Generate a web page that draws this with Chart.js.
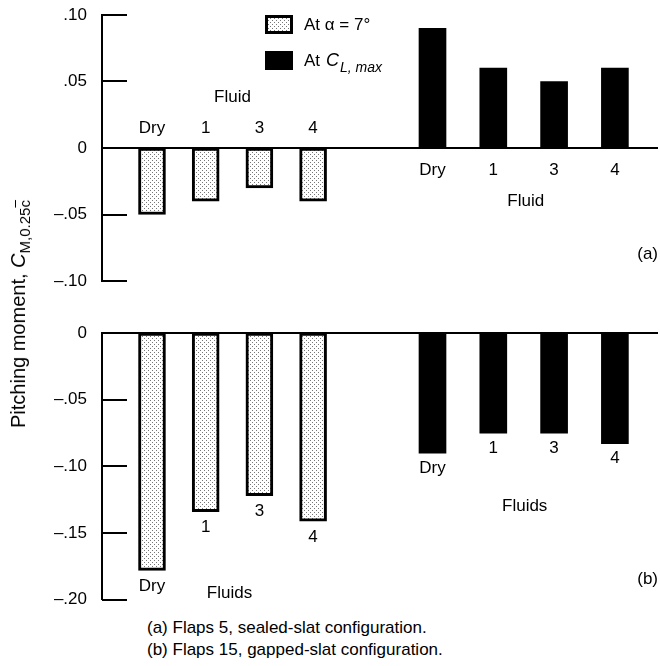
<!DOCTYPE html>
<html>
<head>
<meta charset="utf-8">
<script src="https://cdn.jsdelivr.net/npm/chart.js@4.4.1/dist/chart.umd.min.js"></script>
<style>
  body { margin: 0; background: #fff; font-family: "Liberation Sans", Arial, sans-serif; color: #000; }
  #wrap { position: relative; width: 660px; height: 666px; }
  canvas { position: absolute; left: 0; }
  #chartA { top: 0; }
  #chartB { top: 310px; }
  #ytitle { position: absolute; left: 20px; top: 314px; transform: translate(-50%, -50%) rotate(-90deg); white-space: nowrap; font-size: 20px; }
  #ytitle sub { font-size: 15px; vertical-align: -5px; }
  #caption { position: absolute; left: 147px; top: 617px; font-size: 17px; line-height: 22px; }
</style>
</head>
<body>
<div id="wrap">
  <canvas id="chartA" width="660" height="300"></canvas>
  <canvas id="chartB" width="660" height="300"></canvas>
  <div id="ytitle">Pitching moment, <i>C</i><sub>M,0.25<span style="text-decoration: overline">c</span></sub></div>
  <div id="caption">(a) Flaps 5, sealed-slat configuration.<br>(b) Flaps 15, gapped-slat configuration.</div>
</div>
<script>
const fluids = ['Dry', '1', '3', '4'];
// (a) flaps 5, sealed slat
const alphaA = [-0.05, -0.04, -0.03, -0.04];
const clmaxA = [0.09, 0.06, 0.05, 0.06];
// (b) flaps 15, gapped slat
const alphaB = [-0.178, -0.134, -0.122, -0.141];
const clmaxB = [-0.09, -0.075, -0.075, -0.083];
const ticksA = [0.10, 0.05, 0, -0.05, -0.10];
const ticksB = [0, -0.05, -0.10, -0.15, -0.20];

const FONT = '"Liberation Sans", Arial, sans-serif';

function dotPattern() {
    const c = document.createElement('canvas');
    c.width = 4; c.height = 4;
    const g = c.getContext('2d');
    g.fillStyle = '#fff';
    g.fillRect(0, 0, 4, 4);
    g.fillStyle = '#777';
    g.fillRect(0, 0, 1, 1);
    g.fillRect(2, 2, 1, 1);
    return g.createPattern(c, 'repeat');
}
const dotFill = dotPattern();

function fmt(v) {
    if (Math.abs(v) < 1e-9) return '0';
    const s = Math.abs(v).toFixed(2).replace(/^0/, '');
    return v < 0 ? '\u2013' + s : s;
}

function barSet(label, vals, axis, fill, border) {
    return {
        label: label,
        data: vals.map((v, i) => ({ x: i, y: v })),
        xAxisID: axis,
        backgroundColor: fill,
        borderColor: '#000',
        borderWidth: border,
        borderSkipped: false,
        barThickness: 27,
        grouped: false
    };
}

// inward tick marks + the zero line
const axesPlugin = {
    id: 'axesPlugin',
    beforeDatasetsDraw(chart) {
        const { ctx, chartArea, scales } = chart;
        const y = scales.y;
        ctx.save();
        ctx.strokeStyle = '#000';
        ctx.lineWidth = 2;
        y.ticks.forEach(t => {
            const py = Math.round(y.getPixelForValue(t.value));
            ctx.beginPath();
            ctx.moveTo(chartArea.left, py);
            ctx.lineTo(chartArea.left + 25, py);
            ctx.stroke();
        });
        const z = Math.round(y.getPixelForValue(0));
        ctx.beginPath();
        ctx.moveTo(chartArea.left, z);
        ctx.lineTo(chartArea.right, z);
        ctx.stroke();
        ctx.restore();
    }
};

function text(ctx, s, x, y, size, align) {
    ctx.font = size + 'px ' + FONT;
    ctx.textAlign = align || 'center';
    ctx.textBaseline = 'middle';
    ctx.fillStyle = '#000';
    ctx.fillText(s, x, y);
}

function centers(scale) {
    return fluids.map((f, i) => scale.getPixelForValue(i));
}

const labelsA = {
    id: 'labelsA',
    afterDraw(chart) {
        const { ctx, chartArea, scales } = chart;
        const z = scales.y.getPixelForValue(0);
        const xa = centers(scales.xa), xb = centers(scales.xb);
        ctx.save();
        fluids.forEach((f, i) => text(ctx, f, xa[i], z - 20, 17));
        text(ctx, 'Fluid', (xa[0] + xa[3]) / 2, z - 51, 17);
        fluids.forEach((f, i) => text(ctx, f, xb[i], z + 22, 17));
        text(ctx, 'Fluid', (xb[0] + xb[3]) / 2 + 2, z + 53, 17);
        text(ctx, '(a)', chartArea.right, scales.y.getPixelForValue(-0.08), 17, 'right');

        // legend
        ctx.fillStyle = dotFill;
        ctx.fillRect(266, 16, 26, 17);
        ctx.lineWidth = 3;
        ctx.strokeStyle = '#000';
        ctx.strokeRect(266.5, 16.5, 25, 16);
        ctx.fillStyle = '#000';
        ctx.fillRect(265, 51, 28, 19);
        text(ctx, 'At \u03b1 = 7\u00b0', 304, 25, 17, 'left');
        text(ctx, 'At ', 304, 61, 17, 'left');
        ctx.font = 'italic 18px ' + FONT;
        let x = 304 + ctx.measureText('At ').width;
        ctx.fillText('C', x, 61);
        x += ctx.measureText('C').width + 1;
        ctx.font = 'italic 14px ' + FONT;
        ctx.fillText('L, max', x, 68);
        ctx.restore();
    }
};

const labelsB = {
    id: 'labelsB',
    afterDraw(chart) {
        const { ctx, chartArea, scales } = chart;
        const y = scales.y;
        const xa = centers(scales.xa), xb = centers(scales.xb);
        ctx.save();
        fluids.forEach((f, i) => text(ctx, f, xa[i], y.getPixelForValue(alphaB[i]) + 16, 17));
        text(ctx, 'Fluids', (xa[0] + xa[3]) / 2 - 3, y.getPixelForValue(-0.2) - 6, 17);
        fluids.forEach((f, i) => text(ctx, f, xb[i], y.getPixelForValue(clmaxB[i]) + 15, 17));
        text(ctx, 'Fluids', (xb[0] + xb[3]) / 2 + 1, y.getPixelForValue(-0.13), 17);
        text(ctx, '(b)', chartArea.right, y.getPixelForValue(-0.185), 17, 'right');
        ctx.restore();
    }
};

function panel(id, sets, ticks, pad, extra) {
    return new Chart(document.getElementById(id), {
        type: 'bar',
        data: { datasets: sets },
        options: {
            responsive: false,
            animation: false,
            layout: { padding: pad },
            plugins: { legend: { display: false }, tooltip: { enabled: false } },
            scales: {
                xa: { type: 'linear', display: false, offset: false, min: -0.931, max: 9.423 },
                xb: { type: 'linear', display: false, offset: false, min: -5.436, max: 3.709 },
                y: {
                    min: Math.min(...ticks),
                    max: Math.max(...ticks),
                    afterFit: s => { s.width = 102; },
                    afterBuildTicks: s => { s.ticks = ticks.map(v => ({ value: v })); },
                    // tick length only pushes the labels left; marks are drawn inward by axesPlugin
                    grid: { display: false, drawTicks: true, tickLength: 15 },
                    border: { display: true, color: '#000', width: 2 },
                    ticks: {
                        padding: 0,
                        color: '#000',
                        font: { family: FONT, size: 17 },
                        callback: v => fmt(v)
                    }
                }
            }
        },
        plugins: [axesPlugin, extra]
    });
}

panel('chartA', [
    barSet('At \u03b1 = 7\u00b0', alphaA, 'xa', dotFill, 3),
    barSet('At CL,max', clmaxA, 'xb', '#000', 0)
], ticksA, { top: 15, bottom: 19, left: 0, right: 2 }, labelsA);

panel('chartB', [
    barSet('At \u03b1 = 7\u00b0', alphaB, 'xa', dotFill, 3),
    barSet('At CL,max', clmaxB, 'xb', '#000', 0)
], ticksB, { top: 23, bottom: 10, left: 0, right: 2 }, labelsB);
</script>
</body>
</html>
